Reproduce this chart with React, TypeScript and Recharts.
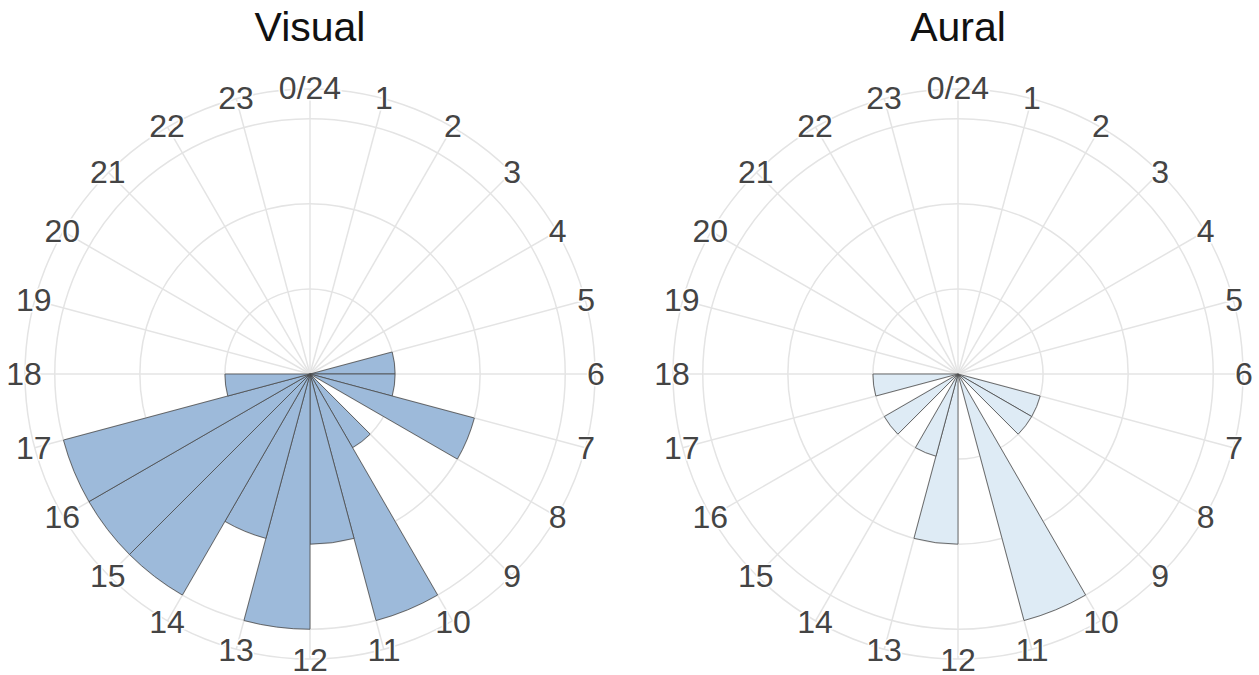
import {
  RadialBarChart,
  RadialBar,
  PolarAngleAxis,
  PolarRadiusAxis,
  PolarGrid,
} from 'recharts'

// hours of the day; the bar of hour h fills the sector from h to h+1
const hours = [0, 1, 2, 3, 4, 5, 6, 7, 8, 9, 10, 11, 12, 13, 14, 15, 16, 17, 18, 19, 20, 21, 22, 23]
const visualCounts = [0, 0, 0, 0, 0, 1, 1, 2, 0, 1, 3, 2, 3, 2, 3, 3, 3, 1, 0, 0, 0, 0, 0, 0]
const auralCounts = [0, 0, 0, 0, 0, 0, 0, 1, 1, 0, 3, 0, 2, 1, 0, 1, 0, 1, 0, 0, 0, 0, 0, 0]
const radiusTicks = [0, 1, 2, 3]
const radiusMax = 3.35

const FONT = '"Liberation Sans", Arial, sans-serif'
const GRID = '#e4e4e4'

// the band of hour h ends on the spoke of hour h+1, which is where its tick sits
const spokeLabel = (h: number) => ((h + 1) % 24 === 0 ? '0/24' : String(h + 1))

const renderHourTick = (props: any) => {
  const { x, y, payload } = props
  return (
    <text
      x={x}
      y={y}
      textAnchor="middle"
      dominantBaseline="central"
      fontSize={32}
      fontFamily={FONT}
      fill="#444"
      stroke="#fff"
      strokeWidth={3}
      paintOrder="stroke"
    >
      {spokeLabel(payload.value)}
    </text>
  )
}

function RoseChart({ title, counts, fill, left, width, cx }: any) {
  const data = hours.map((h, i) => ({ hour: h, count: counts[i] }))
  return (
    <div style={{ position: 'absolute', left, top: 0, width, height: 675 }}>
      <div
        style={{
          position: 'absolute',
          left: cx - 150,
          width: 300,
          top: 7,
          textAlign: 'center',
          fontFamily: FONT,
          fontSize: 41,
          lineHeight: '41px',
          color: '#111',
        }}
      >
        {title}
      </div>
      <RadialBarChart
        width={width}
        height={675}
        data={data}
        layout="centric"
        cx={cx}
        cy={374}
        innerRadius={0}
        outerRadius={285}
        startAngle={75}
        endAngle={-285}
        barCategoryGap={0}
        margin={{ top: 0, right: 0, bottom: 0, left: 0 }}
      >
        <PolarGrid gridType="circle" stroke={GRID} strokeWidth={1.5} />
        <PolarRadiusAxis
          type="number"
          domain={[0, radiusMax]}
          ticks={radiusTicks}
          tick={false}
          axisLine={false}
        />
        <PolarAngleAxis
          type="category"
          dataKey="hour"
          tick={renderHourTick}
          tickLine={false}
          tickSize={1}
          axisLineType="circle"
          axisLine={{ stroke: GRID, strokeWidth: 1.5 }}
        />
        <RadialBar
          dataKey="count"
          fill={fill}
          stroke="#4a4a4a"
          strokeWidth={0.8}
          isAnimationActive={false}
        />
      </RadialBarChart>
    </div>
  )
}

export default function App() {
  return (
    <div style={{ position: 'absolute', left: 0, top: 0, width: 1259, height: 675, background: '#fff' }}>
      <RoseChart title="Visual" counts={visualCounts} fill="#9dbada" left={0} width={630} cx={310} />
      <RoseChart title="Aural" counts={auralCounts} fill="#deebf5" left={630} width={629} cx={328} />
    </div>
  )
}
